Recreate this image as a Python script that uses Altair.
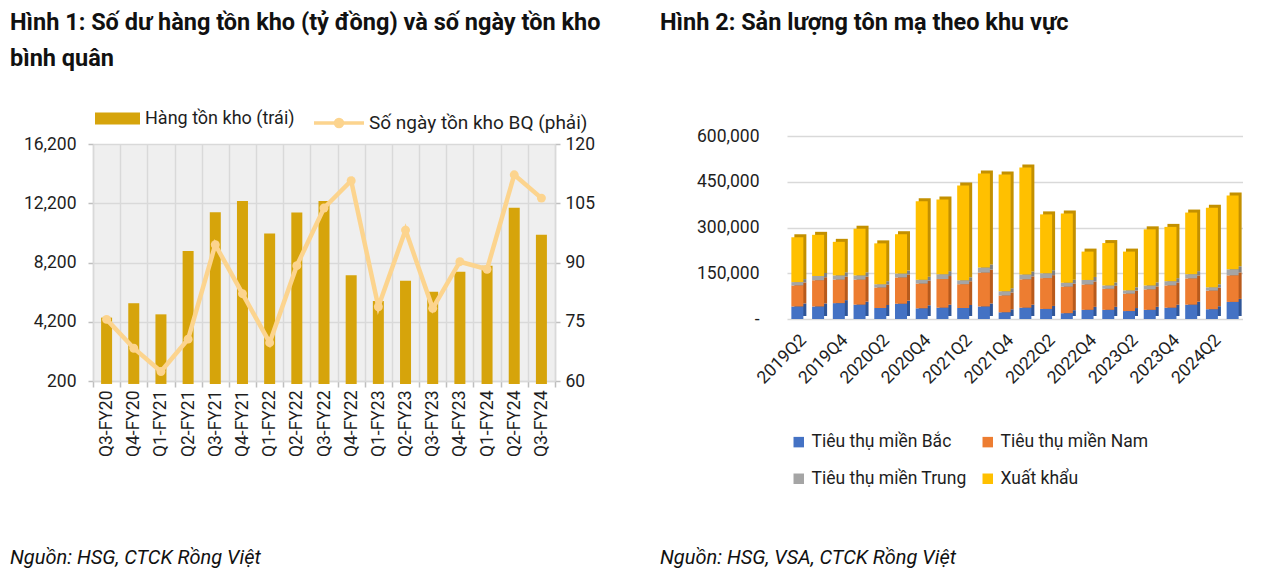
import altair as alt
import pandas as pd

# ---------------- data: Hình 1 ----------------
left_cats = ["Q3-FY20", "Q4-FY20", "Q1-FY21", "Q2-FY21", "Q3-FY21", "Q4-FY21",
             "Q1-FY22", "Q2-FY22", "Q3-FY22", "Q4-FY22", "Q1-FY23", "Q2-FY23",
             "Q3-FY23", "Q4-FY23", "Q1-FY24", "Q2-FY24", "Q3-FY24"]
inventory = [4480, 5450, 4700, 8970, 11600, 12350, 10160, 11580, 12350, 7340,
             5600, 6960, 6220, 7570, 7975, 11900, 10070]
days = [75.6, 68.3, 62.4, 70.6, 94.5, 82.1, 69.7, 89.2, 103.8, 110.7,
        78.8, 98.2, 78.4, 90.2, 88.3, 112.2, 106.3]
inv_ticks = [200, 4200, 8200, 12200, 16200]
day_ticks = [60, 75, 90, 105, 120]
left_series = ["Hàng tồn kho (trái)", "Số ngày tồn kho BQ (phải)"]

# ---------------- data: Hình 2 ----------------
right_cats = ["2019Q2", "2019Q3", "2019Q4", "2020Q1", "2020Q2", "2020Q3", "2020Q4",
              "2021Q1", "2021Q2", "2021Q3", "2021Q4", "2022Q1", "2022Q2", "2022Q3",
              "2022Q4", "2023Q1", "2023Q2", "2023Q3", "2023Q4", "2024Q1", "2024Q2",
              "2024Q3"]
right_tick_labels = ["2019Q2", "2019Q4", "2020Q2", "2020Q4", "2021Q2", "2021Q4",
                     "2022Q2", "2022Q4", "2023Q2", "2023Q4", "2024Q2"]
north = [41000, 41000, 52000, 47000, 36000, 50000, 35000, 37000, 36000, 41000, 22000,
         37000, 33000, 19000, 30000, 30000, 26000, 30000, 37000, 47000, 32000, 56000]
south = [69000, 86000, 77000, 82000, 67000, 86000, 81000, 94000, 78000, 111000, 55000,
         93000, 101000, 87000, 83000, 69000, 57000, 67000, 73000, 86000, 61000, 87000]
central = [11000, 14000, 14000, 14000, 11000, 13000, 13000, 16000, 13000, 17000, 14000,
           16000, 16000, 13000, 15000, 11000, 11000, 13000, 14000, 14000, 11000, 20000]
export = [147000, 135000, 110000, 153000, 134000, 129000, 257000, 245000, 311000,
          308000, 383000, 351000, 193000, 227000, 93000, 139000, 127000, 184000,
          178000, 202000, 261000, 242000]
region_names = ["Tiêu thụ miền Bắc", "Tiêu thụ miền Nam", "Tiêu thụ miền Trung", "Xuất khẩu"]
right_ticks = [0, 150000, 300000, 450000, 600000]

title1 = "Hình 1: Số dư hàng tồn kho (tỷ đồng) và số ngày tồn kho\nbình quân"
title2 = "Hình 2: Sản lượng tôn mạ theo khu vực"
source1 = "Nguồn: HSG, CTCK Rồng Việt"
source2 = "Nguồn: HSG, VSA, CTCK Rồng Việt"

# ---------------- styles ----------------
FONT = "Roboto"
TXT = "#1e1e1e"
GRID = "#d9d9d9"
GOLD = "#D6A40B"
PEACH = "#FCD48E"
region_colors = ["#4472C4", "#ED7D31", "#A5A5A5", "#FFC000"]
region_dark = ["#2F5597", "#B85A1C", "#7F7F7F", "#C39000"]
FS = 17.5
TFS = 23.5

# ---------------- Hình 1 ----------------
df_left = pd.DataFrame({"q": left_cats, "inv": inventory, "days": days,
                        "s1": left_series[0], "s2": left_series[1]})

x_left = alt.X("q:N", sort=left_cats, title=None,
               scale=alt.Scale(paddingInner=0, paddingOuter=0),
               axis=alt.Axis(labelAngle=-90, tickBand="extent", grid=True,
                             gridColor=GRID, gridWidth=1.5, domainColor=GRID,
                             domainWidth=1.5, tickColor="#bfbfbf", tickWidth=1.5,
                             tickSize=6, labelFont=FONT, labelFontSize=FS,
                             labelColor=TXT, labelPadding=3))

bars = alt.Chart(df_left).mark_bar(size=11).encode(
    x=x_left,
    y=alt.Y("inv:Q", title=None,
            scale=alt.Scale(domain=[200, 16200], nice=False, zero=False),
            axis=alt.Axis(values=inv_ticks, labelExpr="format(datum.value, ',')",
                          grid=True, gridColor=GRID,
                          gridWidth=1.5, domainColor=GRID, domainWidth=1.5,
                          tickColor="#bfbfbf", tickWidth=1.5, tickSize=5,
                          labelPadding=12, labelFont=FONT, labelFontSize=FS,
                          labelColor=TXT)),
    fill=alt.Fill("s1:N", scale=alt.Scale(domain=[left_series[0]], range=[GOLD]),
                  legend=alt.Legend(orient="none", legendX=2, legendY=-48, title=None,
                                    symbolType="M-1,-0.27H1V0.27H-1Z", symbolSize=2025,
                                    symbolStrokeWidth=0, labelFont=FONT, labelLimit=400,
                                    labelFontSize=18, labelColor=TXT, labelOffset=5)),
)

line = alt.Chart(df_left).mark_line(
    strokeWidth=4.5,
    point=alt.OverlayMarkDef(filled=True, size=80, color=PEACH, strokeWidth=0),
).encode(
    x=x_left,
    y=alt.Y("days:Q", title=None,
            scale=alt.Scale(domain=[60, 120], nice=False, zero=False),
            axis=alt.Axis(orient="right", values=day_ticks, grid=False,
                          domainColor=GRID, domainWidth=1.5, tickColor="#bfbfbf",
                          tickWidth=1.5, tickSize=5, labelPadding=5, labelFont=FONT,
                          labelFontSize=FS, labelColor=TXT)),
    stroke=alt.Stroke("s2:N", scale=alt.Scale(domain=[left_series[1]], range=[PEACH]),
                      legend=alt.Legend(orient="none", legendX=219, legendY=-48,
                                        title=None, labelLimit=400,
                                        symbolType="M-1,0H1M-0.14,0A0.14,0.14,0,1,1,0.14,0A0.14,0.14,0,1,1,-0.14,0",
                                        symbolSize=2500, symbolStrokeWidth=3.5,
                                        symbolFillColor=PEACH, labelFont=FONT,
                                        labelFontSize=19, labelColor=TXT,
                                        labelOffset=3)),
)

t1 = alt.Chart(pd.DataFrame({"t": [title1]})).mark_text(
    align="left", baseline="alphabetic", font=FONT, fontSize=TFS, fontWeight="bold",
    lineBreak="\n", lineHeight=36, color="#111111",
).encode(text="t:N", x=alt.value(-83), y=alt.value(-114))

f1 = alt.Chart(pd.DataFrame({"t": [source1]})).mark_text(
    align="left", baseline="alphabetic", font=FONT, fontSize=20, fontStyle="italic",
    color="#111111",
).encode(text="t:N", x=alt.value(-83), y=alt.value(420))

left = alt.layer(bars, line, t1, f1).resolve_scale(
    y="independent", fill="independent", stroke="independent"
).properties(width=462, height=237, view=alt.ViewBackground(fill="#efefef", stroke=None))

# ---------------- Hình 2 ----------------
rows = []
for i, p in enumerate(right_cats):
    for k, (name, vals) in enumerate(zip(region_names, [north, south, central, export])):
        rows.append({"p": p, "r": name, "v": vals[i], "o": k})
df_right = pd.DataFrame(rows)

x_right = alt.X("p:N", sort=right_cats, title=None,
                scale=alt.Scale(paddingInner=0.4, paddingOuter=0.2),
                axis=alt.Axis(values=right_tick_labels, labelAngle=-45, ticks=False,
                              domain=False, labelFont=FONT, labelFontSize=FS,
                              labelColor=TXT, labelPadding=12))
y_right = alt.Y("v:Q", title=None, stack="zero",
                scale=alt.Scale(domain=[0, 600000], nice=False, range=[175, -8]),
                axis=alt.Axis(values=right_ticks, grid=True, gridColor=GRID,
                              gridWidth=1.5, domain=False, ticks=False, labelPadding=28,
                              labelExpr="datum.value == 0 ? '-' : format(datum.value, ',')",
                              labelFont=FONT, labelFontSize=FS, labelColor=TXT))

# darker side/top faces giving the 3-D look
shade = alt.Chart(df_right).mark_bar(size=12, xOffset=3, yOffset=-3).encode(
    x=x_right, y=y_right,
    color=alt.Color("r:N", scale=alt.Scale(domain=region_names, range=region_dark),
                    legend=None),
    order=alt.Order("o:Q"),
)

stack = alt.Chart(df_right).mark_bar(size=12).encode(
    x=x_right, y=y_right,
    color=alt.Color("r:N", scale=alt.Scale(domain=region_names, range=region_colors),
                    legend=alt.Legend(orient="none", legendX=3, legendY=289, title=None,
                                      columns=2, direction="horizontal",
                                      symbolType="square", symbolSize=110,
                                      symbolStrokeWidth=0, rowPadding=18,
                                      columnPadding=12, labelFont=FONT, labelLimit=400,
                                      labelFontSize=FS, labelColor=TXT, labelOffset=4)),
    order=alt.Order("o:Q"),
)

t2 = alt.Chart(pd.DataFrame({"t": [title2]})).mark_text(
    align="left", baseline="alphabetic", font=FONT, fontSize=TFS, fontWeight="bold",
    color="#111111",
).encode(text="t:N", x=alt.value(-127), y=alt.value(-114))

f2 = alt.Chart(pd.DataFrame({"t": [source2]})).mark_text(
    align="left", baseline="alphabetic", font=FONT, fontSize=20, fontStyle="italic",
    color="#111111",
).encode(text="t:N", x=alt.value(-127), y=alt.value(420))

right = alt.layer(shade, stack, t2, f2).resolve_scale(
    color="independent"
).properties(width=456, height=175)

chart = alt.hconcat(left, right, spacing=59).resolve_legend(
    fill="independent", stroke="independent", color="independent"
).properties(
    padding={"left": 2, "top": 3, "right": 0, "bottom": 0}
).configure_view(stroke=None)

chart.save("out.html", embed_options={"renderer": "svg", "actions": False})
